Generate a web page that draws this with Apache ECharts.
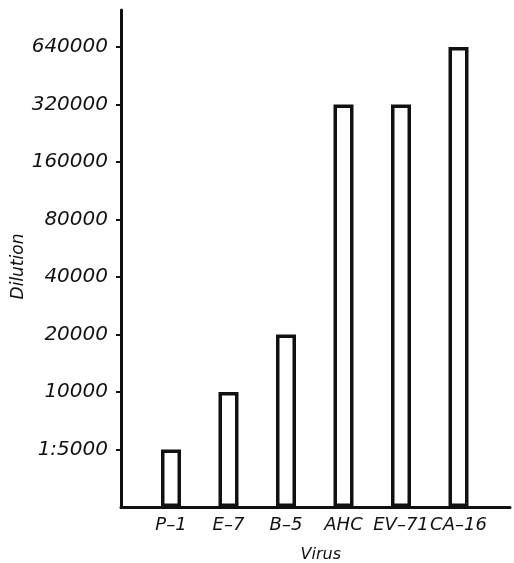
<!DOCTYPE html>
<html>
<head>
<meta charset="utf-8">
<script src="https://cdn.jsdelivr.net/npm/echarts@6/dist/echarts.min.js"></script>
<style>html,body{margin:0;padding:0;background:#fff}#c{width:514px;height:563px}</style>
</head>
<body>
<div id="c"></div>
<script>
// Data
const categories = ['P–1', 'E–7', 'B–5', 'AHC', 'EV–71', 'CA–16'];
const dilutions = [5000, 10000, 20000, 320000, 320000, 640000];
const tickValues = [5000, 10000, 20000, 40000, 80000, 160000, 320000, 640000];
const tickLabels = ['1:5000', '10000', '20000', '40000', '80000', '160000', '320000', '640000'];
const axisBase = 2500;      // value at the x axis
const axisTop = 1000000;    // value at the top of the y axis

const lv = v => Math.log2(v / axisBase);
const yMax = lv(axisTop);
const tickPos = tickValues.map(lv);
const ink = '#111';
const font = {fontFamily: 'DejaVu Sans', fontStyle: 'italic', color: ink};

const chart = echarts.init(document.getElementById('c'), null, {renderer: 'canvas'});
chart.setOption({
  animation: false,
  backgroundColor: '#fff',
  grid: [
    {left: 121, right: 4, top: 10, bottom: 56, containLabel: false, outerBoundsMode: 'none'},
    {left: 142.25, right: 26.75, top: 10, bottom: 56, containLabel: false, outerBoundsMode: 'none'}
  ],
  xAxis: [
    {gridIndex: 0, type: 'value', min: 0, max: 1, z: 5,
     axisLine: {show: true, lineStyle: {color: ink, width: 3}},
     axisTick: {show: false}, axisLabel: {show: false}, splitLine: {show: false}},
    {gridIndex: 1, type: 'category', data: categories,
     axisLine: {show: false}, axisTick: {show: false},
     axisLabel: Object.assign({fontSize: 18, margin: 9, interval: 0, hideOverlap: false}, font),
     name: 'Virus', nameLocation: 'middle', nameGap: 40, nameMoveOverlap: false,
     nameTextStyle: Object.assign({fontSize: 16, padding: [0, 0, 0, 12]}, font)}
  ],
  yAxis: [
    {gridIndex: 0, type: 'value', min: 0, max: yMax,
     axisLine: {show: true, lineStyle: {color: ink, width: 3}},
     axisTick: {show: true, length: 5, customValues: tickPos, lineStyle: {color: ink, width: 2}},
     axisLabel: Object.assign({fontSize: 20, margin: 13, customValues: tickPos,
       formatter: v => {
         const i = tickPos.findIndex(p => Math.abs(p - v) < 1e-6);
         return i >= 0 ? tickLabels[i] : '';
       }}, font),
     splitLine: {show: false},
     name: 'Dilution', nameLocation: 'middle', nameGap: 94, nameRotate: 90, nameMoveOverlap: false,
     nameTextStyle: Object.assign({fontSize: 17, padding: [0, 16, 0, 0]}, font)},
    {gridIndex: 1, type: 'value', min: 0, max: yMax, show: false}
  ],
  series: [{
    type: 'bar', xAxisIndex: 1, yAxisIndex: 1,
    data: dilutions.map(lv),
    barWidth: 20,
    itemStyle: {color: '#fff', borderColor: ink, borderWidth: 3.5}
  }]
});
</script>
</body>
</html>
